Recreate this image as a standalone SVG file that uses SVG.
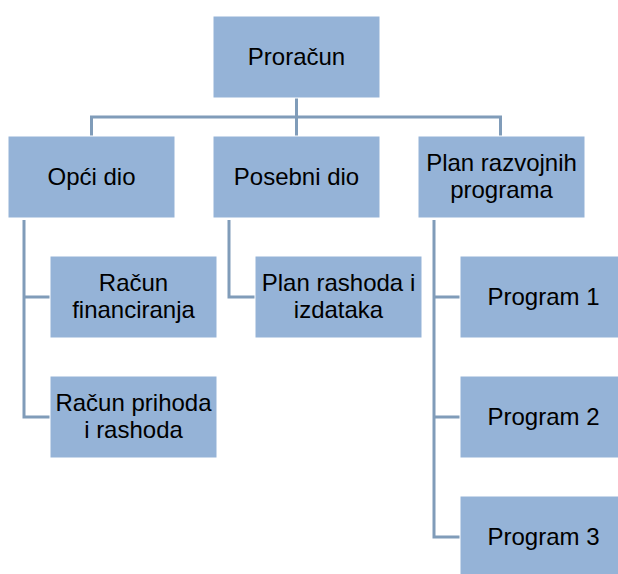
<svg xmlns="http://www.w3.org/2000/svg" width="618" height="574" viewBox="0 0 618 574">
<style>
.box{fill:#95b3d7;stroke:#ffffff;stroke-width:1}
.t{font-family:"Liberation Sans",Arial,sans-serif;font-size:24px;fill:#000000;text-anchor:middle}
.c{fill:none;stroke:#809cb9;stroke-width:3}
</style>
<rect width="618" height="574" fill="#ffffff"/>
<g id="connectors">
<path class="c" d="M296.5 98 V136 M91.5 136 V117 H500.5 V136"/>
<path class="c" d="M24 220 V417 H50 M24 297 H50"/>
<path class="c" d="M229 220 V297 H255"/>
<path class="c" d="M434 220 V537 H460 M434 297 H460 M434 417 H460"/>
</g>
<g id="proracun"><rect class="box" x="213" y="16" width="167" height="82"/><text class="t" x="296.5" y="65">Proračun</text></g>
<g id="opci"><rect class="box" x="8" y="136" width="167" height="82"/><text class="t" x="91.5" y="185">Opći dio</text></g>
<g id="posebni"><rect class="box" x="213" y="136" width="167" height="82"/><text class="t" x="296.5" y="185">Posebni dio</text></g>
<g id="plan"><rect class="box" x="418" y="136" width="167" height="82"/><text class="t" x="501.5" y="171">Plan razvojnih</text><text class="t" x="501.5" y="198">programa</text></g>
<g id="racfin"><rect class="box" x="50" y="256" width="167" height="82"/><text class="t" x="133.5" y="291">Račun</text><text class="t" x="133.5" y="318">financiranja</text></g>
<g id="planrash"><rect class="box" x="255" y="256" width="167" height="82"/><text class="t" x="338.5" y="291">Plan rashoda i</text><text class="t" x="338.5" y="318">izdataka</text></g>
<g id="prog1"><rect class="box" x="460" y="256" width="167" height="82"/><text class="t" x="543.5" y="305">Program 1</text></g>
<g id="racprih"><rect class="box" x="50" y="376" width="167" height="82"/><text class="t" x="133.5" y="411">Račun prihoda</text><text class="t" x="133.5" y="438">i rashoda</text></g>
<g id="prog2"><rect class="box" x="460" y="376" width="167" height="82"/><text class="t" x="543.5" y="425">Program 2</text></g>
<g id="prog3"><rect class="box" x="460" y="496" width="167" height="82"/><text class="t" x="543.5" y="545">Program 3</text></g>
</svg>
